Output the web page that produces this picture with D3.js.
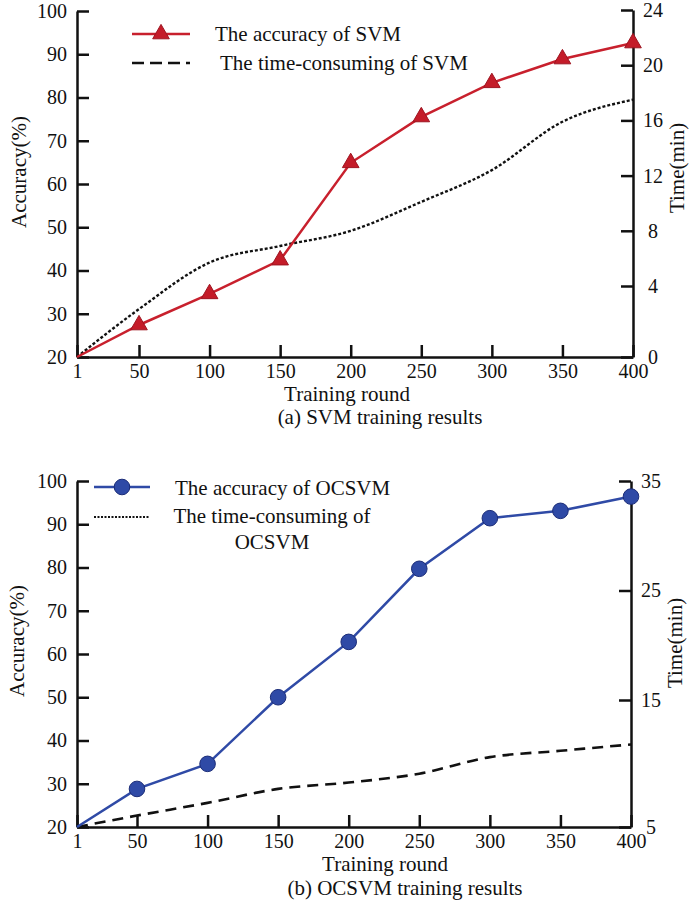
<!DOCTYPE html>
<html>
<head>
<meta charset="utf-8">
<script src="https://cdn.jsdelivr.net/npm/d3@7"></script>
<style>
  html, body { margin: 0; padding: 0; background: #fff; }
  svg { display: block; }
  text { font-family: "Liberation Serif", "Times New Roman", serif; fill: #111; }
</style>
</head>
<body>
<script>
// Data
var rounds = [1, 50, 100, 150, 200, 250, 300, 350, 400];
var svmAccuracy = [20, 27.4, 34.6, 42.4, 64.9, 75.5, 83.4, 88.9, 92.6];
var svmTime = [0, 2.7, 5.7, 6.9, 8.0, 10.1, 12.4, 15.9, 17.5];
var ocsvmAccuracy = [20, 28.8, 34.6, 50.0, 62.8, 79.7, 91.4, 93.1, 96.4];
var ocsvmTime = [5, 5.9, 6.9, 8.0, 8.5, 9.2, 10.5, 11.0, 11.5];

var accuracyTicks = [20, 30, 40, 50, 60, 70, 80, 90, 100];
var svmTimeTicks = [0, 4, 8, 12, 16, 20, 24];
var ocsvmTimeTicks = [5, 15, 25, 35];

var RED = '#c8202d', BLUE = '#2f4aa6';

var svg = d3.select('body')
  .append('svg')
  .attr('width', 689)
  .attr('height', 905);

svg.append('rect').attr('width', 689).attr('height', 905).attr('fill', '#fff');

function styleAxis(g){
  g.select('.domain').attr('stroke', '#111').attr('stroke-width', 2.5);
  g.selectAll('.tick line').attr('stroke', '#111').attr('stroke-width', 2.5);
  g.selectAll('.tick text')
    .attr('font-family', '"Liberation Serif", serif')
    .attr('font-size', 20)
    .attr('fill', '#111');
  g.attr('font-family', null).attr('font-size', null);
}

function drawPanel(p){
  var g = svg.append('g');

  // scales: the original's first x interval and first right interval are drawn wider
  var x = d3.scaleLinear().domain([1, 50, 400]).range([p.left, p.x50, p.right]);
  var yL = d3.scaleLinear().domain([20, 100]).range([p.bottom, p.top]);
  var yR = d3.scaleLinear().domain(p.rightDomain).range(p.rightRange);

  // Axes
  var xAxis = g.append('g')
    .attr('transform', 'translate(0,' + p.bottom + ')')
    .call(d3.axisBottom(x).tickValues(rounds).tickFormat(d3.format('d'))
      .tickSizeInner(-12).tickSizeOuter(0).tickPadding(7));
  styleAxis(xAxis);

  var leftAxis = g.append('g')
    .attr('transform', 'translate(' + p.left + ',0)')
    .call(d3.axisLeft(yL).tickValues(accuracyTicks)
      .tickSizeInner(-12).tickSizeOuter(0).tickPadding(10));
  styleAxis(leftAxis);

  var rightAxis = g.append('g')
    .attr('transform', 'translate(' + p.right + ',0)')
    .call(d3.axisRight(yR).tickValues(p.rightTicks)
      .tickSizeInner(-12).tickSizeOuter(0));
  styleAxis(rightAxis);
  rightAxis.selectAll('.tick text').attr('x', 20).attr('text-anchor', 'middle');

  // Axis titles
  g.append('text')
    .attr('transform', 'translate(' + p.yTitleX + ',' + p.yTitleY + ') rotate(-90)')
    .attr('text-anchor', 'middle')
    .attr('font-size', 21)
    .text('Accuracy(%)');

  g.append('text')
    .attr('transform', 'translate(' + p.rTitleX + ',' + p.rTitleY + ') rotate(-90)')
    .attr('text-anchor', 'middle')
    .attr('font-size', 21)
    .text('Time(min)');

  g.append('text')
    .attr('x', p.xTitleX).attr('y', p.xTitleY)
    .attr('text-anchor', 'middle')
    .attr('font-size', 21)
    .text('Training round');

  g.append('text')
    .attr('x', p.captionX).attr('y', p.captionY)
    .attr('text-anchor', 'middle')
    .attr('font-size', 21)
    .text(p.caption);

  // Time line (right axis)
  var timeLine = d3.line()
    .x(function(d, i){ return x(rounds[i]); })
    .y(function(d){ return yR(d); })
    .curve(d3.curveMonotoneX);

  g.append('path')
    .datum(p.time)
    .attr('d', timeLine)
    .attr('fill', 'none')
    .attr('stroke', '#111')
    .attr('stroke-width', p.timeWidth)
    .attr('stroke-dasharray', p.timeDash);

  // Accuracy line (left axis)
  var accLine = d3.line()
    .x(function(d, i){ return x(rounds[i]); })
    .y(function(d){ return yL(d); });

  g.append('path')
    .datum(p.accuracy)
    .attr('d', accLine)
    .attr('fill', 'none')
    .attr('stroke', p.color)
    .attr('stroke-width', 2.5);

  var pts = p.accuracy.map(function(d, i){ return {x: rounds[i], y: d}; }).slice(1);
  drawMarkers(g, pts.map(function(d){ return [x(d.x), yL(d.y)]; }), p.marker);

  // Legend
  var lg = g.append('g');
  lg.append('line')
    .attr('x1', p.legX1).attr('x2', p.legX2)
    .attr('y1', p.legY1).attr('y2', p.legY1)
    .attr('stroke', p.color).attr('stroke-width', 2.5);
  drawMarkers(lg, [[(p.legX1 + p.legX2) / 2, p.legY1]], p.marker);
  lg.append('line')
    .attr('x1', p.legX1).attr('x2', p.legX2)
    .attr('y1', p.legY2).attr('y2', p.legY2)
    .attr('stroke', '#111')
    .attr('stroke-width', p.legDashWidth)
    .attr('stroke-dasharray', p.legDash);

  lg.append('text')
    .attr('x', p.legTextX1).attr('y', p.legTextY1)
    .attr('font-size', 21)
    .text(p.legAcc);

  var t2 = lg.append('text')
    .attr('font-size', 21)
    .attr('text-anchor', p.legTimeLines.length > 1 ? 'middle' : 'start');
  p.legTimeLines.forEach(function(s, i){
    t2.append('tspan')
      .attr('x', p.legTextX2)
      .attr('y', p.legTextY2 + i * 26)
      .text(s);
  });
}

function drawMarkers(g, pts, kind){
  if(kind === 'triangle'){
    g.selectAll(null)
      .data(pts)
      .enter()
      .append('path')
      .attr('d', d3.symbol(d3.symbolTriangle).size(120))
      .attr('transform', function(d){ return 'translate(' + d[0] + ',' + d[1] + ')'; })
      .attr('fill', '#c41c29')
      .attr('stroke', '#9e1420')
      .attr('stroke-width', 1);
  } else {
    g.selectAll(null)
      .data(pts)
      .enter()
      .append('circle')
      .attr('cx', function(d){ return d[0]; })
      .attr('cy', function(d){ return d[1]; })
      .attr('r', 7.8)
      .attr('fill', BLUE)
      .attr('stroke', '#1c2d78')
      .attr('stroke-width', 1);
  }
}

// (a) SVM
drawPanel({
  left: 77, x50: 139, right: 633,
  top: 11, bottom: 357,
  rightDomain: [0, 4, 24], rightRange: [357, 286, 10], rightTicks: svmTimeTicks,
  accuracy: svmAccuracy, time: svmTime,
  color: RED, marker: 'triangle',
  timeDash: '3,2', timeWidth: 2.4,
  yTitleX: 26, yTitleY: 172,
  rTitleX: 684, rTitleY: 168,
  xTitleX: 347, xTitleY: 401,
  captionX: 380, captionY: 424,
  caption: '(a) SVM training results',
  legX1: 132, legX2: 190, legY1: 34, legY2: 63,
  legDash: '12,6', legDashWidth: 2.5,
  legTextX1: 215, legTextY1: 41,
  legTextX2: 220, legTextY2: 70,
  legAcc: 'The accuracy of SVM',
  legTimeLines: ['The time-consuming of SVM']
});

// (b) OCSVM
drawPanel({
  left: 77, x50: 137, right: 631,
  top: 481, bottom: 827,
  rightDomain: [5, 15, 35], rightRange: [827, 700, 481], rightTicks: ocsvmTimeTicks,
  accuracy: ocsvmAccuracy, time: ocsvmTime,
  color: BLUE, marker: 'circle',
  timeDash: '11,7', timeWidth: 2.6,
  yTitleX: 24, yTitleY: 641,
  rTitleX: 682, rTitleY: 643,
  xTitleX: 385, xTitleY: 871,
  captionX: 405, captionY: 895,
  caption: '(b) OCSVM training results',
  legX1: 94, legX2: 150, legY1: 487, legY2: 517,
  legDash: '2,1.5', legDashWidth: 1.8,
  legTextX1: 175, legTextY1: 495,
  legTextX2: 272, legTextY2: 523,
  legAcc: 'The accuracy of OCSVM',
  legTimeLines: ['The time-consuming of', 'OCSVM']
});
</script>
</body>
</html>
